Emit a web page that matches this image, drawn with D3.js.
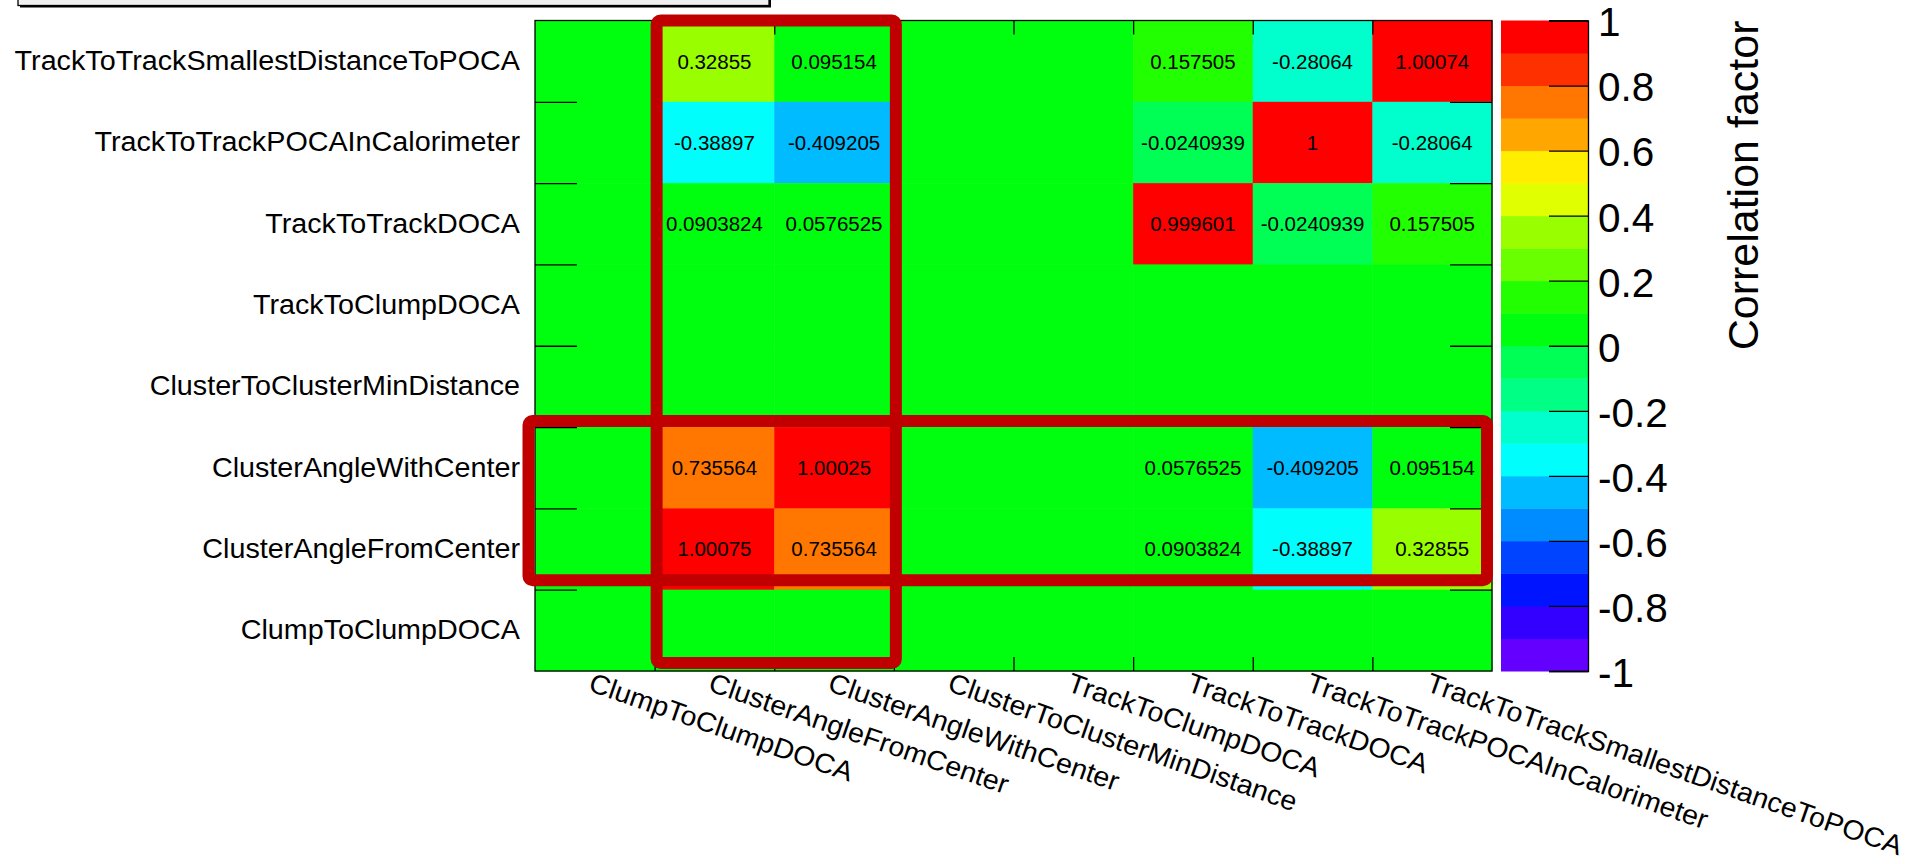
<!DOCTYPE html>
<html>
<head>
<meta charset="utf-8">
<script src="https://cdn.jsdelivr.net/npm/d3@7"></script>
<style>
  body { margin: 0; background: #ffffff; }
  svg { display: block; font-family: "Liberation Sans", Arial, Helvetica, sans-serif; }
</style>
</head>
<body>
<svg id="chart" width="1915" height="864"></svg>
<script>
// Variables on the horizontal axis, left to right
const xVars = [
  "ClumpToClumpDOCA", "ClusterAngleFromCenter", "ClusterAngleWithCenter",
  "ClusterToClusterMinDistance", "TrackToClumpDOCA", "TrackToTrackDOCA",
  "TrackToTrackPOCAInCalorimeter", "TrackToTrackSmallestDistanceToPOCA"
];
// Variables on the vertical axis, top to bottom
const yVars = [
  "TrackToTrackSmallestDistanceToPOCA", "TrackToTrackPOCAInCalorimeter",
  "TrackToTrackDOCA", "TrackToClumpDOCA", "ClusterToClusterMinDistance",
  "ClusterAngleWithCenter", "ClusterAngleFromCenter", "ClumpToClumpDOCA"
];

// Correlation factors, one row per y variable (columns follow xVars)
const rowTrackToTrackSmallestDistanceToPOCA = [0, 0.32855, 0.095154, 0, 0, 0.157505, -0.28064, 1.00074];
const rowTrackToTrackPOCAInCalorimeter     = [0, -0.38897, -0.409205, 0, 0, -0.0240939, 1, -0.28064];
const rowTrackToTrackDOCA                  = [0, 0.0903824, 0.0576525, 0, 0, 0.999601, -0.0240939, 0.157505];
const rowTrackToClumpDOCA                  = [0, 0, 0, 0, 0, 0, 0, 0];
const rowClusterToClusterMinDistance       = [0, 0, 0, 0, 0, 0, 0, 0];
const rowClusterAngleWithCenter            = [0, 0.735564, 1.00025, 0, 0, 0.0576525, -0.409205, 0.095154];
const rowClusterAngleFromCenter            = [0, 1.00075, 0.735564, 0, 0, 0.0903824, -0.38897, 0.32855];
const rowClumpToClumpDOCA                  = [0, 0, 0, 0, 0, 0, 0, 0];

// Colour-bar tick values
const colorTicks = [-1, -0.8, -0.6, -0.4, -0.2, 0, 0.2, 0.4, 0.6, 0.8, 1];

const rows = [
  rowTrackToTrackSmallestDistanceToPOCA, rowTrackToTrackPOCAInCalorimeter,
  rowTrackToTrackDOCA, rowTrackToClumpDOCA, rowClusterToClusterMinDistance,
  rowClusterAngleWithCenter, rowClusterAngleFromCenter, rowClumpToClumpDOCA
];
const cells = [];
rows.forEach((r, i) => r.forEach((v, j) => cells.push({ y: yVars[i], x: xVars[j], v })));

// Layout
const width = 1915, height = 864;
const plot = { left: 535, right: 1492, top: 20.5, bottom: 671 };
const bar = { left: 1501, right: 1588 };
const labelFont = "\"Liberation Sans\", Arial, sans-serif";
const labelStretch = 1.045;
const xLabelStretch = 1.037;

const svg = d3.select("#chart");

// Scales
const xBand = d3.scaleBand().domain(xVars).range([plot.left, plot.right]);
const yBand = d3.scaleBand().domain(yVars).range([plot.top, plot.bottom]);
const xIdx = d3.scaleLinear().domain([0, xVars.length]).range([plot.left, plot.right]);
const yIdx = d3.scaleLinear().domain([0, yVars.length]).range([plot.top, plot.bottom]);

// 20-level rainbow palette (hue sweep from violet to red)
const nLevels = 20, nColors = 50;
const palette = d3.range(nLevels).map(k => {
  const idx = Math.floor((k + 0.99) * nColors / nLevels);
  const hue = 280 - (idx + 1) * (280 / nColors);
  return d3.hsl(hue, 1, 0.5).formatHex();
});
const color = d3.scaleQuantize().domain([-1, 1]).range(palette);

// Partially visible title box at the top
svg.append("rect").attr("x", 20).attr("y", -12).attr("width", 751).attr("height", 19.5).attr("fill", "#000");
svg.append("rect").attr("x", 18).attr("y", -12).attr("width", 751).attr("height", 17.5)
  .attr("fill", "#f0f0f0").attr("stroke", "#000").attr("stroke-width", 1.3);

// Cells
svg.append("g").selectAll("rect").data(cells).join("rect")
  .attr("x", d => xBand(d.x))
  .attr("y", d => yBand(d.y))
  .attr("width", xBand.bandwidth() + 0.5)
  .attr("height", yBand.bandwidth() + 0.5)
  .attr("fill", d => color(d.v));

// Cell values
svg.append("g").selectAll("text").data(cells.filter(d => d.v !== 0)).join("text")
  .attr("x", d => xBand(d.x) + xBand.bandwidth() / 2)
  .attr("y", d => yBand(d.y) + yBand.bandwidth() / 2)
  .attr("dy", "0.36em")
  .attr("text-anchor", "middle")
  .attr("font-size", 20.5)
  .attr("fill", "#000")
  .text(d => String(d.v));

// Tick marks at bin edges on all four sides
const inner = d3.range(1, xVars.length);
function styleTicks(g) {
  g.select(".domain").remove();
  g.selectAll(".tick line").attr("stroke", "#000").attr("stroke-width", 1.3);
}
svg.append("g").attr("transform", `translate(0,${plot.bottom})`)
  .call(d3.axisBottom(xIdx).tickValues(inner).tickSize(-14).tickFormat("")).call(styleTicks);
svg.append("g").attr("transform", `translate(0,${plot.top})`)
  .call(d3.axisTop(xIdx).tickValues(inner).tickSize(-14).tickFormat("")).call(styleTicks);
svg.append("g").attr("transform", `translate(${plot.left},0)`)
  .call(d3.axisLeft(yIdx).tickValues(d3.range(1, yVars.length)).tickSize(-42).tickFormat("")).call(styleTicks);
svg.append("g").attr("transform", `translate(${plot.right},0)`)
  .call(d3.axisRight(yIdx).tickValues(d3.range(1, yVars.length)).tickSize(-42).tickFormat("")).call(styleTicks);

// Frame
svg.append("rect")
  .attr("x", plot.left).attr("y", plot.top)
  .attr("width", plot.right - plot.left).attr("height", plot.bottom - plot.top)
  .attr("fill", "none").attr("stroke", "#000").attr("stroke-width", 1.3);

// Y labels
const yAxisG = svg.append("g").attr("transform", `translate(${plot.left},0)`)
  .call(d3.axisLeft(yBand).tickSize(0).tickPadding(15));
yAxisG.select(".domain").remove();
yAxisG.selectAll("text")
  .attr("x", -15 / labelStretch)
  .attr("transform", `scale(${labelStretch},1)`)
  .attr("font-size", 27.5).attr("fill", "#000")
  .attr("font-family", labelFont);

// X labels, slanted
const xAxisG = svg.append("g").attr("transform", `translate(0,${plot.bottom})`)
  .call(d3.axisBottom(xBand).tickSize(0));
xAxisG.select(".domain").remove();
const xLabelTransform = s => `translate(-7.5,19.5) rotate(19.2) scale(${s},1)`;
xAxisG.selectAll("text")
  .attr("y", 0).attr("dy", 0)
  .attr("text-anchor", "start")
  .attr("transform", xLabelTransform(xLabelStretch))
  .attr("font-size", 27.5).attr("fill", "#000")
  .attr("font-family", labelFont)
  .each(function () {
    // keep the longest slanted label inside the page
    const box = this.getBoundingClientRect();
    const fx = box.right > width - 0.5 ? (width - 0.5 - box.left) / (box.right - box.left) : 1;
    const fy = box.bottom > height - 0.5 ? (height - 0.5 - box.top) / (box.bottom - box.top) : 1;
    const f = Math.min(fx, fy);
    if (f < 1) d3.select(this).attr("transform", xLabelTransform(xLabelStretch * f));
  });

// Colour bar
const cbY = d3.scaleLinear().domain([-1, 1]).range([plot.bottom, plot.top]);
const bands = palette.map((c, k) => ({ lo: -1 + k * 2 / nLevels, hi: -1 + (k + 1) * 2 / nLevels, c }));
svg.append("g").selectAll("rect").data(bands).join("rect")
  .attr("x", bar.left).attr("width", bar.right - bar.left)
  .attr("y", d => cbY(d.hi)).attr("height", d => cbY(d.lo) - cbY(d.hi) + 0.5)
  .attr("fill", d => d.c);
const cbAxis = svg.append("g").attr("transform", `translate(${bar.right},0)`)
  .call(d3.axisRight(cbY).tickValues(colorTicks).tickSize(-39).tickPadding(10)
    .tickFormat(d => String(+d.toFixed(1))));
cbAxis.select(".domain").attr("stroke", "#000").attr("stroke-width", 1.3);
cbAxis.selectAll(".tick line").attr("stroke", "#000").attr("stroke-width", 1.3);
cbAxis.selectAll("text").attr("font-size", 40.5).attr("fill", "#000").attr("dy", "0.38em")
  .attr("font-family", labelFont);

// Colour-bar title
svg.append("text")
  .attr("transform", `translate(1758,${plot.top}) rotate(-90)`)
  .attr("text-anchor", "end")
  .attr("font-size", 43)
  .attr("fill", "#000")
  .text("Correlation factor");

// Highlight boxes around the ClusterAngle rows and columns
const hl = "#c00000";
svg.append("rect")
  .attr("x", xBand("ClusterAngleFromCenter") + 2)
  .attr("y", plot.top)
  .attr("width", 2 * xBand.bandwidth())
  .attr("height", plot.bottom - plot.top - 8)
  .attr("rx", 4)
  .attr("fill", "none").attr("stroke", hl).attr("stroke-width", 12);
svg.append("rect")
  .attr("x", plot.left - 6.5)
  .attr("y", yBand("ClusterAngleWithCenter") - 6)
  .attr("width", plot.right - plot.left + 1.5)
  .attr("height", 2 * yBand.bandwidth() - 3.5)
  .attr("rx", 4)
  .attr("fill", "none").attr("stroke", hl).attr("stroke-width", 12);
</script>
</body>
</html>
